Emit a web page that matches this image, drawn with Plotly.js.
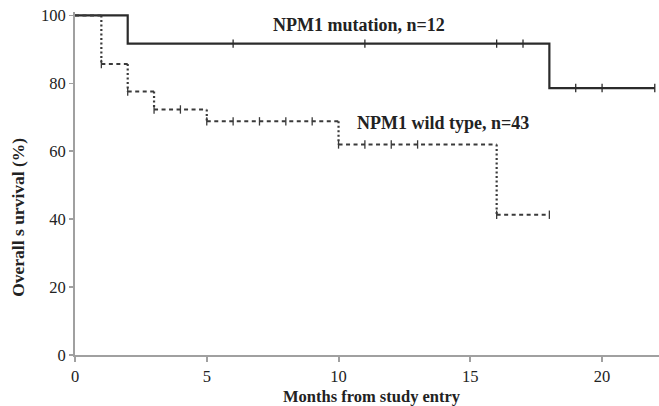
<!DOCTYPE html>
<html>
<head>
<meta charset="utf-8">
<script src="https://cdn.plot.ly/plotly-3.0.1.min.js"></script>
<style>html,body{margin:0;padding:0;background:#fff;}#chart{width:659px;height:406px;}</style>
</head>
<body>
<div id="chart"></div>
<script>
// Step points (time, survival %) after each event
var mutTimes = [0, 2, 18, 22];
var mutSurv = [100, 91.7, 78.6, 78.6];
var mutCensor = [6, 11, 16, 17, 19, 20, 22];

var wtTimes = [0, 1, 2, 3, 5, 10, 16, 18];
var wtSurv = [100, 85.7, 77.6, 72.3, 68.8, 62.0, 41.3, 41.3];
var wtCensor = [1, 2, 3, 4, 5, 6, 7, 8, 9, 10, 11, 12, 13, 16, 18];

var xTicks = [0, 5, 10, 15, 20];
var yTicks = [0, 20, 40, 60, 80, 100];

function stepAt(times, surv, t) {
  var v = surv[0];
  for (var i = 0; i < times.length; i++) { if (times[i] <= t) v = surv[i]; }
  return v;
}
function horizSegs(times, surv) {
  var x = [], y = [];
  for (var i = 0; i < times.length - 1; i++) {
    x.push(times[i], times[i + 1], null);
    y.push(surv[i], surv[i], null);
  }
  return {x: x, y: y};
}
function vertSegs(times, surv) {
  var x = [], y = [];
  for (var i = 1; i < times.length; i++) {
    if (surv[i] !== surv[i - 1]) {
      x.push(times[i], times[i], null);
      y.push(surv[i - 1], surv[i], null);
    }
  }
  return {x: x, y: y};
}

var mutCol = '#2b2b2b', wtCol = '#3a3a3a';
var wtH = horizSegs(wtTimes, wtSurv), wtV = vertSegs(wtTimes, wtSurv);

var traces = [
  {x: mutTimes, y: mutSurv, mode: 'lines', line: {shape: 'hv', color: mutCol, width: 2.2}, hoverinfo: 'skip', cliponaxis: false},
  {x: mutCensor, y: mutCensor.map(function(t){return stepAt(mutTimes, mutSurv, t);}), mode: 'markers',
   marker: {symbol: 'line-ns-open', size: 6, color: mutCol, line: {color: mutCol, width: 1.3}}, cliponaxis: false},
  {x: wtH.x, y: wtH.y, mode: 'lines', line: {color: wtCol, width: 2, dash: '4px,3.5px'}, connectgaps: false, cliponaxis: false},
  {x: wtV.x, y: wtV.y, mode: 'lines', line: {color: wtCol, width: 2.2, dash: '2px,2.5px'}, connectgaps: false, cliponaxis: false},
  {x: wtCensor, y: wtCensor.map(function(t){return stepAt(wtTimes, wtSurv, t);}), mode: 'markers',
   marker: {symbol: 'line-ns-open', size: 6, color: wtCol, line: {color: wtCol, width: 1.3}}, cliponaxis: false}
];

var font = {family: '"Liberation Serif", "DejaVu Serif", serif', color: '#222'};
var layout = {
  width: 659, height: 406,
  margin: {l: 75, r: 0, t: 12, b: 51},
  showlegend: false,
  paper_bgcolor: '#fff', plot_bgcolor: '#fff',
  font: font,
  xaxis: {range: [0, 22.16], tickvals: xTicks, ticktext: xTicks.map(String), showgrid: false, zeroline: false,
          showline: true, linecolor: '#a0a0a0', linewidth: 2, ticks: 'outside', ticklen: 5, tickwidth: 2, tickcolor: '#a0a0a0',
          tickfont: {family: font.family, size: 16.5, color: '#222'}, fixedrange: true},
  yaxis: {range: [0, 101], tickvals: yTicks, ticktext: yTicks.map(String), showgrid: false, zeroline: false,
          showline: true, linecolor: '#a0a0a0', linewidth: 2, ticks: 'outside', ticklen: 4, tickwidth: 1.5, tickcolor: '#a0a0a0',
          tickfont: {family: font.family, size: 16.5, color: '#222'}, fixedrange: true},
  annotations: [
    {text: 'NPM1 mutation, n=12', xref: 'x', yref: 'y', x: 10.76, y: 97.3, showarrow: false,
     font: {family: font.family, size: 18, color: '#222', weight: 'bold'}, xanchor: 'center', yanchor: 'middle'},
    {text: 'NPM1 wild type, n=43', xref: 'x', yref: 'y', x: 13.95, y: 68.2, showarrow: false,
     font: {family: font.family, size: 18, color: '#222', weight: 'bold'}, xanchor: 'center', yanchor: 'middle'},
    {text: 'Months from study entry', xref: 'paper', yref: 'paper', x: 0.509, y: -0.122, showarrow: false,
     font: {family: font.family, size: 16.5, color: '#222', weight: 'bold'}, xanchor: 'center', yanchor: 'middle'},
    {text: 'Overall s urvival (%)', xref: 'paper', yref: 'paper', x: -0.0976, y: 0.40, showarrow: false, textangle: -90,
     font: {family: font.family, size: 17.5, color: '#222', weight: 'bold'}, xanchor: 'center', yanchor: 'middle'}
  ]
};

Plotly.newPlot('chart', traces, layout, {displayModeBar: false, staticPlot: true});
</script>
</body>
</html>
